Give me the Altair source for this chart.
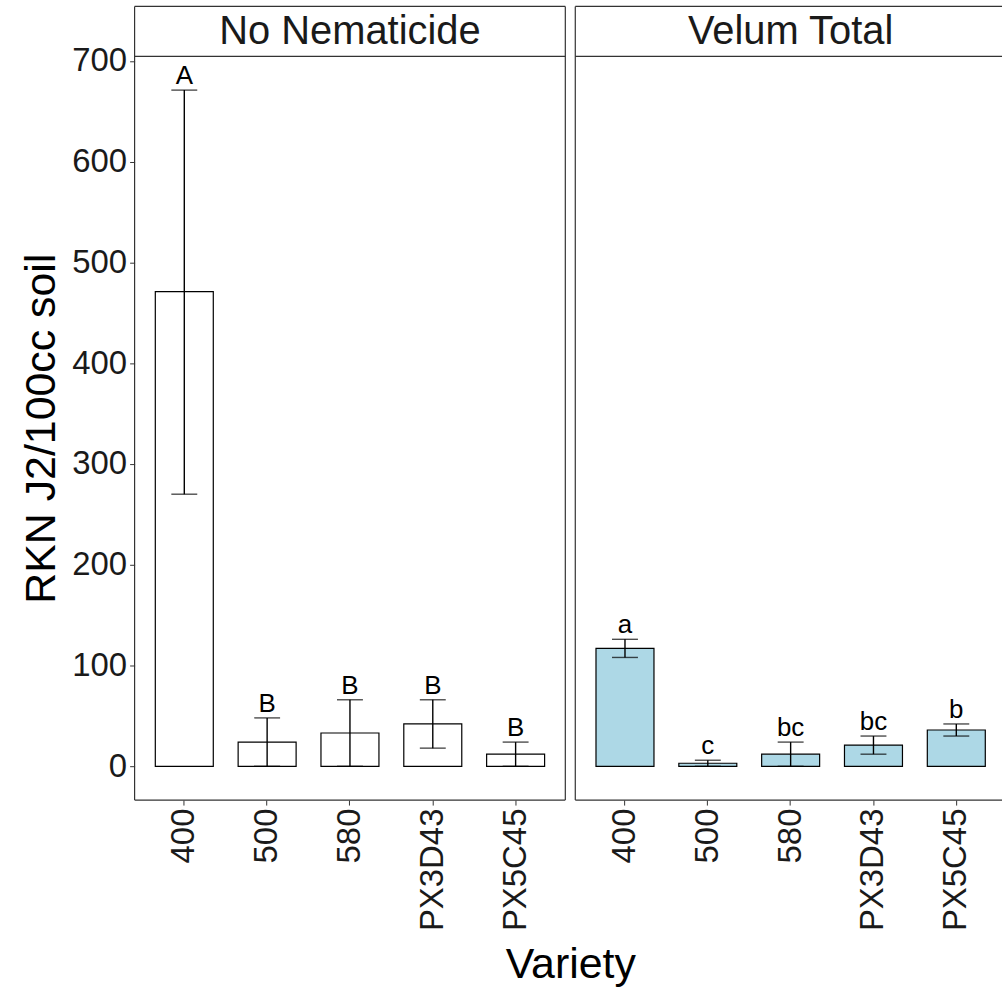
import altair as alt
import pandas as pd

# Root-knot nematode J2 counts per 100 cc soil, mean with upper/lower error bounds
varieties = ["400", "500", "580", "PX3D43", "PX5C45"]

no_nem_mean = [471, 24, 33, 42, 12]
no_nem_upper = [671, 48, 66, 66, 24]
no_nem_lower = [270, 0, 0, 18, 0]
no_nem_letters = ["A", "B", "B", "B", "B"]

velum_mean = [117, 3, 12, 21, 36]
velum_upper = [126, 6, 24, 30, 42]
velum_lower = [108, 0, 0, 12, 30]
velum_letters = ["a", "c", "bc", "bc", "b"]

FONT = "Liberation Sans"
INK = "#333333"
PANEL_W = 432
VIEW_H = 796     # strip (50 px) + plot panel (746 px)
STRIP_H = 50

y_scale = alt.Scale(domain=[-33.55, 704.55], range=[VIEW_H, STRIP_H], nice=False, zero=False)
x_scale = alt.Scale(domain=varieties, range=[0, PANEL_W], paddingInner=0.3, paddingOuter=0.25)


def panel(title, means, upper, lower, letters, fill, first, view_w):
    df = pd.DataFrame({
        "Variety": varieties,
        "mean": means,
        "upper": upper,
        "lower": lower,
        "letter": letters,
    })

    if first:
        y_axis = alt.Axis(
            values=list(range(0, 701, 100)), title="RKN J2/100cc soil",
            domain=False, grid=False, tickColor=INK, tickSize=5, tickWidth=1,
            labelFont=FONT, labelFontSize=33, labelColor="#1a1a1a", labelPadding=3,
            titleFont=FONT, titleFontSize=43, titleFontWeight="normal", titleColor="black",
            titleAngle=270, titleBaseline="alphabetic", titleX=-80, titleY=423,
        )
        x_axis = alt.Axis(
            title="Variety",
            domain=False, grid=False, tickColor=INK, tickSize=5, tickWidth=1,
            labelAngle=270, labelAlign="right", labelBaseline="middle",
            labelFont=FONT, labelFontSize=33, labelColor="#1a1a1a", labelPadding=3,
            titleFont=FONT, titleFontSize=43, titleFontWeight="normal", titleColor="black",
            titleX=437, titleY=178, titleBaseline="alphabetic",
        )
    else:
        y_axis = None
        x_axis = alt.Axis(
            title=None,
            domain=False, grid=False, tickColor=INK, tickSize=5, tickWidth=1,
            labelAngle=270, labelAlign="right", labelBaseline="middle",
            labelFont=FONT, labelFontSize=33, labelColor="#1a1a1a", labelPadding=3,
        )

    base = alt.Chart(df)
    x_pos = alt.X("Variety:N", scale=x_scale, sort=varieties)

    bars = base.mark_bar(fill=fill, stroke="black", strokeWidth=1.2).encode(
        x=alt.X("Variety:N", scale=x_scale, axis=x_axis, sort=varieties),
        y=alt.Y("mean:Q", scale=y_scale, axis=y_axis),
    )
    stems = base.mark_rule(color="black", strokeWidth=1.4).encode(
        x=x_pos, y="lower:Q", y2="upper:Q",
    )
    cap_hi = base.mark_tick(color="black", size=26, thickness=1.4).encode(
        x=x_pos, y="upper:Q",
    )
    cap_lo = base.mark_tick(color="black", size=26, thickness=1.4).encode(
        x=x_pos, y="lower:Q",
    )
    labels = base.mark_text(
        font=FONT, fontSize=26, color="black", baseline="alphabetic", dy=-6
    ).encode(
        x=x_pos, y="upper:Q", text="letter:N",
    )

    # panel frame and strip
    one = pd.DataFrame({"facet": [title]})
    frame = [
        alt.Chart(one).mark_rule(color=INK, strokeWidth=1.2).encode(
            x=alt.value(0), x2=alt.value(view_w), y=alt.value(0)),
        alt.Chart(one).mark_rule(color=INK, strokeWidth=1.2).encode(
            x=alt.value(0), x2=alt.value(view_w), y=alt.value(STRIP_H)),
        alt.Chart(one).mark_rule(color=INK, strokeWidth=1.2).encode(
            x=alt.value(0), x2=alt.value(view_w), y=alt.value(VIEW_H)),
        alt.Chart(one).mark_rule(color=INK, strokeWidth=1.2).encode(
            x=alt.value(0), y=alt.value(0), y2=alt.value(VIEW_H)),
    ]
    if first:
        frame.append(alt.Chart(one).mark_rule(color=INK, strokeWidth=1.2).encode(
            x=alt.value(view_w), y=alt.value(0), y2=alt.value(VIEW_H)))
    strip_text = alt.Chart(one).mark_text(
        font=FONT, fontSize=40, color="#1a1a1a", baseline="middle", align="center"
    ).encode(
        x=alt.value(PANEL_W / 2), y=alt.value(STRIP_H / 2 + 1), text="facet:N"
    )

    return alt.layer(bars, stems, cap_hi, cap_lo, labels, *frame, strip_text).properties(
        width=view_w, height=VIEW_H
    )


left = panel("No Nematicide", no_nem_mean, no_nem_upper, no_nem_lower, no_nem_letters,
             "white", True, PANEL_W)
right = panel("Velum Total", velum_mean, velum_upper, velum_lower, velum_letters,
              "#ADD8E6", False, 428)

chart = alt.hconcat(left, right, spacing=10, bounds="flush").resolve_scale(
    y="shared", x="independent"
).configure_view(
    strokeWidth=0
).properties(
    padding={"left": 21, "top": 4, "right": 0, "bottom": 0},
    background="white",
)

chart.save("out.html", embed_options={"renderer": "svg", "actions": False})
